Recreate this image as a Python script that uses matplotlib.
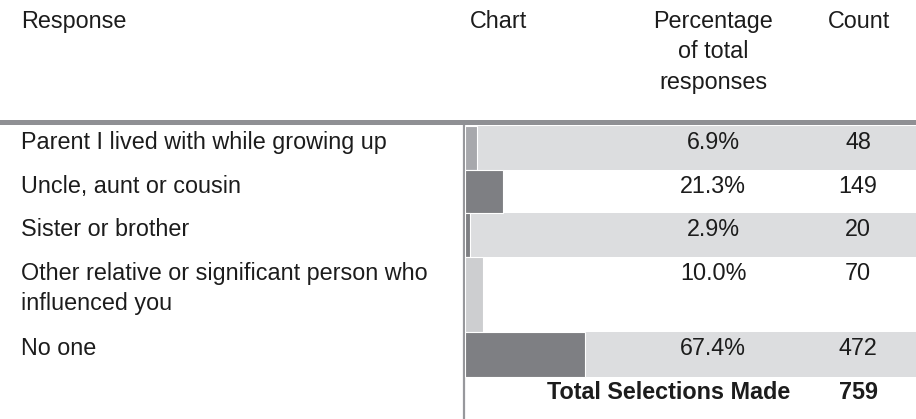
import matplotlib
matplotlib.use("Agg")
import matplotlib.pyplot as plt

# ---- data ----
responses = [
    "Parent I lived with while growing up",
    "Uncle, aunt or cousin",
    "Sister or brother",
    "Other relative or significant person who\ninfluenced you",
    "No one",
]
percentages = [6.9, 21.3, 2.9, 10.0, 67.4]
counts = [48, 149, 20, 70, 472]
total_label = "Total Selections Made"
total_count = 759
headers = ["Response", "Chart", "Percentage\nof total\nresponses", "Count"]

# ---- style / layout ----
W, H = 916, 419
bar_colors = ["#a7a8ac", "#7e7f83", "#7e7f83", "#cdced0", "#7e7f83"]
band_color = "#dcdddf"
line_color = "#8f9094"
text_color = "#1c1c1c"
row_tops = [126, 170, 213, 257, 332]
row_bottoms = [170, 213, 257, 332, 377]
banded = [True, False, True, False, True]
chart_x0 = 465
px_per_pct = 1.78
FS = 16.8
FONT = "Liberation Sans"

fig = plt.figure(figsize=(W / 100, H / 100), dpi=100)
ax = fig.add_axes([0, 0, 1, 1])
ax.set_xlim(0, W)
ax.set_ylim(H, 0)
ax.axis("off")

# bands
for top, bot, b in zip(row_tops, row_bottoms, banded):
    if b:
        ax.fill_between([chart_x0, W], top, bot, color=band_color, lw=0, zorder=1)

# header rule and vertical rule
ax.fill_between([0, W], 120, 125.5, color=line_color, lw=0, zorder=3)
ax.plot([chart_x0 - 1, chart_x0 - 1], [125, H], color="#97989c", lw=1.6, zorder=3,
        solid_capstyle="butt")

# bars in their own axes (x in percent)
bax = fig.add_axes([chart_x0 / W, 0, (W - chart_x0) / W, 1])
bax.set_xlim(0, (W - chart_x0) / px_per_pct)
bax.set_ylim(H, 0)
bax.axis("off")
bax.patch.set_alpha(0)
centers = [(t + b) / 2 for t, b in zip(row_tops, row_bottoms)]
heights = [b - t for t, b in zip(row_tops, row_bottoms)]
bax.barh(centers, percentages, height=heights, left=0, color=bar_colors,
         edgecolor="white", linewidth=0.8, zorder=2)

# headers
kw = dict(fontsize=FS, family=FONT, color=text_color)
ax.text(21, 28, headers[0], ha="left", va="baseline", **kw)
ax.text(470, 28, headers[1], ha="left", va="baseline", **kw)
for i, line in enumerate(headers[2].split("\n")):
    ax.text(713, 28 + 30.5 * i, line, ha="center", va="baseline", **kw)
ax.text(859, 28, headers[3], ha="center", va="baseline", **kw)

# rows
for i, (resp, p, c) in enumerate(zip(responses, percentages, counts)):
    base = row_tops[i] + 22.5
    for j, line in enumerate(resp.split("\n")):
        ax.text(21, base + 30.5 * j, line, ha="left", va="baseline", zorder=5, **kw)
    ax.text(713, base, f"{p:.1f}%", ha="center", va="baseline", zorder=5, **kw)
    ax.text(858, base, f"{c}", ha="center", va="baseline", zorder=5, **kw)

# total
ax.text(790, row_bottoms[-1] + 22, total_label, ha="right", va="baseline",
        fontweight="bold", zorder=5, **kw)
ax.text(858, row_bottoms[-1] + 22, f"{total_count}", ha="center", va="baseline",
        fontweight="bold", zorder=5, **kw)

fig.savefig("out.png", dpi=100)
